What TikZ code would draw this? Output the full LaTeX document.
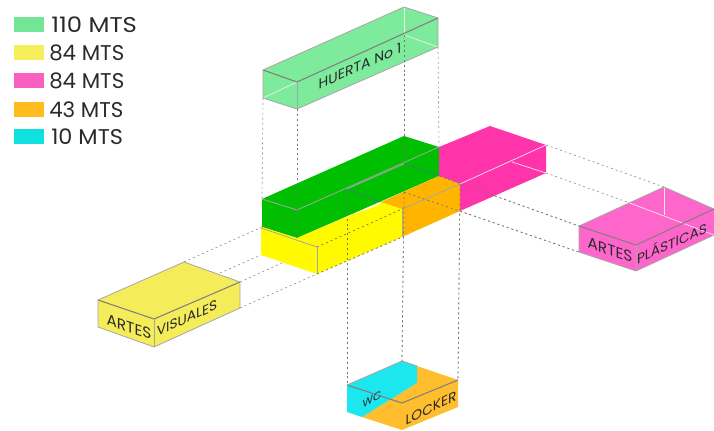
\documentclass[tikz,border=0pt]{standalone}
\usepackage{fontspec}
\setmainfont{Poppins}
\usetikzlibrary{positioning}
\definecolor{LegGreen}{HTML}{72E596}
\definecolor{LegYellow}{HTML}{F6EE5A}
\definecolor{LegPink}{HTML}{F95FBF}
\definecolor{LegOrange}{HTML}{FFBC1C}
\definecolor{LegCyan}{HTML}{10E0E0}
\definecolor{HuertaGreen}{HTML}{7DEB9B}
\definecolor{BaseGreen}{HTML}{00BE00}
\definecolor{BaseYellow}{HTML}{FFFA00}
\definecolor{BaseOrange}{HTML}{FFB400}
\definecolor{BasePink}{HTML}{FF33AA}
\definecolor{PlasticasPink}{HTML}{FF66CC}
\definecolor{VisualesYellow}{HTML}{F5EC5A}
\definecolor{WcCyan}{HTML}{1CE6EE}
\definecolor{LockerOrange}{HTML}{FFBE2E}
\definecolor{TextGrey}{HTML}{2A2A2A}

\begin{document}
\begin{tikzpicture}[x=0.75pt, y=-0.75pt]
			\tikzstyle{Swatch}	= [minimum width=22.5pt, minimum height=11.25pt, inner sep=0pt]
			\tikzstyle{Legend}	= [anchor=west, inner sep=0pt, text=TextGrey, font=\fontsize{16}{17}\selectfont]
			\tikzstyle{Face}	= [font=\fontsize{10.3}{11}\selectfont, inner sep=0pt, text=TextGrey]
			\tikzstyle{Guide}	= [gray!85, densely dashed, dash pattern=on 1.5pt off 2.2pt, line width=0.5pt]
			\tikzstyle{Edge}	= [gray, line width=0.8pt]
			\tikzstyle{Rim}		= [gray!70, line width=0.6pt]
			\tikzstyle{Ghost}	= [white!88!gray, line width=0.5pt]

			\useasboundingbox (0, 0) rectangle (714, 431);

			% corners of the boxes
			\foreach \n/\x/\y in {ha/263/70, hb/297/82, hc/438/18, hd/404/7, he/263/98, hf/297/109, hg/438/47, hh/404/35,
				ga/262/199, gb/297/210, gc/439/147, gd/404/136, ge/262/227, gf/297/238, gg/439/175, gh/404/164,
				ya/261/228, yb/317/247, yc/402/209, yd/381/202, ye/261/255, yf/317/274, yg/402/237,
				oa/439/176, ob/460/184, oc/460/211, pa/490/126, pb/546/145, pc/546/173, pd/439/147, pe/512/162,
				va/98/300, vb/154/319, vc/240/282, vd/184/262, ve/98/327, vf/154/347, vg/240/308, vh/220/273,
				aa/579/226, ab/636/245, ac/714/209, ad/664/187, ae/579/252, af/636/271, ag/714/235, ah/664/215, ai/627/202,
				wa/347/385, wb/402/403, wc/458/380, wd/402/361, we/347/412, wf/402/430, wg/458/407, wh/417/366, wi/417/383, wj/362/417,
				ma/347/189, mb/404/192, mc/347/217, md/378/205}
				\coordinate (\n) at (\x, \y);

			% dashed guides
			\foreach \a/\b in {he/ga, hf/gf, hh/gh, hg/gc, ma/wa, mb/wd, ob/wc,
				vd/ge, ge/gb, vh/ye, vc/yb, vg/yf, yb/yc, yf/yg,
				pb/ad, pc/ai, oa/aa, mb/ae}
				\draw [-] (\a) to (\b) [Guide];

			% huerta
			\fill [HuertaGreen] (ha) -- (hd) -- (hc) -- (hg) -- (hf) -- (he) -- cycle;
			\foreach \a/\b in {he/hb, hh/hg, hd/hh}
				\draw [-] (\a) to (\b) [Ghost];
			\draw [Edge] (ha) -- (hb) -- (hc);
			\draw [Rim] (ha) -- (hd) -- (hc) -- (hg) -- (hf) -- (he) -- cycle;
			\draw [Rim] (hb) -- (hf);

			% base volumes
			\fill [BaseGreen] (ga) -- (gd) -- (gc) -- (oa) -- (gf) -- (ge) -- cycle;
			\fill [BasePink] (pd) -- (pa) -- (pb) -- (pc) -- (oc) -- (ob) -- (oa) -- cycle;
			\fill [BaseYellow] (ya) -- (ge) -- (gf) -- (yd) -- (yc) -- (yg) -- (yf) -- (ye) -- cycle;
			\fill [BaseOrange] (yd) -- (oa) -- (ob) -- (oc) -- (yg) -- (yc) -- cycle;
			\fill [white] (mc) -- (yd) -- (md) -- cycle;
			\foreach \a/\b in {ob/pb, pe/pc}
				\draw [-] (\a) to (\b) [Ghost];
			\foreach \a/\b in {ga/gb, gb/gc, ma/gh, ya/yb, yb/yf, yc/ob, yc/yg}
				\draw [-] (\a) to (\b) [Rim];
			\foreach \a/\b in {ma/yd, gh/gg}
				\draw [-] (\a) to (\b) [line width=0.5pt, teal!60!gray];
			\foreach \a/\b in {hf/gf, hh/gh, ma/wa, mb/wd, ob/wc, ge/gb, yb/yc, yf/yg, oa/aa, mb/ae}
				\draw [-] (\a) to (\b) [Guide, black!55];

			% artes visuales
			\fill [VisualesYellow] (va) -- (vd) -- (vc) -- (vg) -- (vf) -- (ve) -- cycle;
			\draw [Edge] (va) -- (vb) -- (vc);
			\draw [Rim] (va) -- (vd) -- (vc) -- (vg) -- (vf) -- (ve) -- cycle;
			\draw [Rim] (vb) -- (vf);

			% artes plasticas
			\fill [PlasticasPink] (aa) -- (ad) -- (ac) -- (ag) -- (af) -- (ae) -- cycle;
			\foreach \a/\b in {ad/ah, ai/ag}
				\draw [-] (\a) to (\b) [Ghost];
			\draw [Edge] (aa) -- (ab) -- (ac);
			\draw [Rim] (aa) -- (ad) -- (ac);
			\draw [Rim] (aa) -- (ae) -- (af) -- (ag);
			\draw [Rim] (ab) -- (af);

			% wc and locker
			\fill [LockerOrange] (wh) -- (wc) -- (wg) -- (wf) -- (wj) -- (wi) -- cycle;
			\fill [WcCyan] (wa) -- (wd) -- (wh) -- (wi) -- (wj) -- (we) -- cycle;
			\draw [Edge] (wa) -- (wb) -- (wc);
			\draw [Rim] (wa) -- (wd) -- (wh);

			% labels
			\node (huerta) at (360, 66) [Face, yslant=0.45, font=\fontsize{10.5}{11}\selectfont] {HUERTA No 1};
			\node (artesv) at (129, 327) [Face, yslant=-0.34, font=\fontsize{11.5}{12}\selectfont] {ARTES};
			\node (visuales) at (187, 318) [Face, yslant=0.45] {VISUALES};
			\node (artesp) at (610, 250) [Face, yslant=-0.34, font=\fontsize{11.5}{12}\selectfont] {ARTES};
			\node (plasticas) at (672, 242) [Face, yslant=0.45] {PLÁSTICAS};
			\node (wclabel) at (372, 399) [Face, yslant=0.6, font=\fontsize{8}{9}\selectfont] {WC};
			\node (locker) at (431, 408) [Face, yslant=0.5] {LOCKER};

			% legend
			\foreach \n/\c/\y/\x/\s/\t in {a/LegGreen/24.5/51/1.14/110 MTS, b/LegYellow/52.5/49/1/84 MTS, c/LegPink/80.5/49/1/84 MTS, d/LegOrange/109.5/49/1/43 MTS, e/LegCyan/136.5/51/1.05/10 MTS}
			{
				\node (swatch\n) at (29, \y) [Swatch, fill=\c] {};
				\node (legend\n) at (\x, \y) [Legend, xscale=\s] {\t};
			}
		\end{tikzpicture}
\end{document}
